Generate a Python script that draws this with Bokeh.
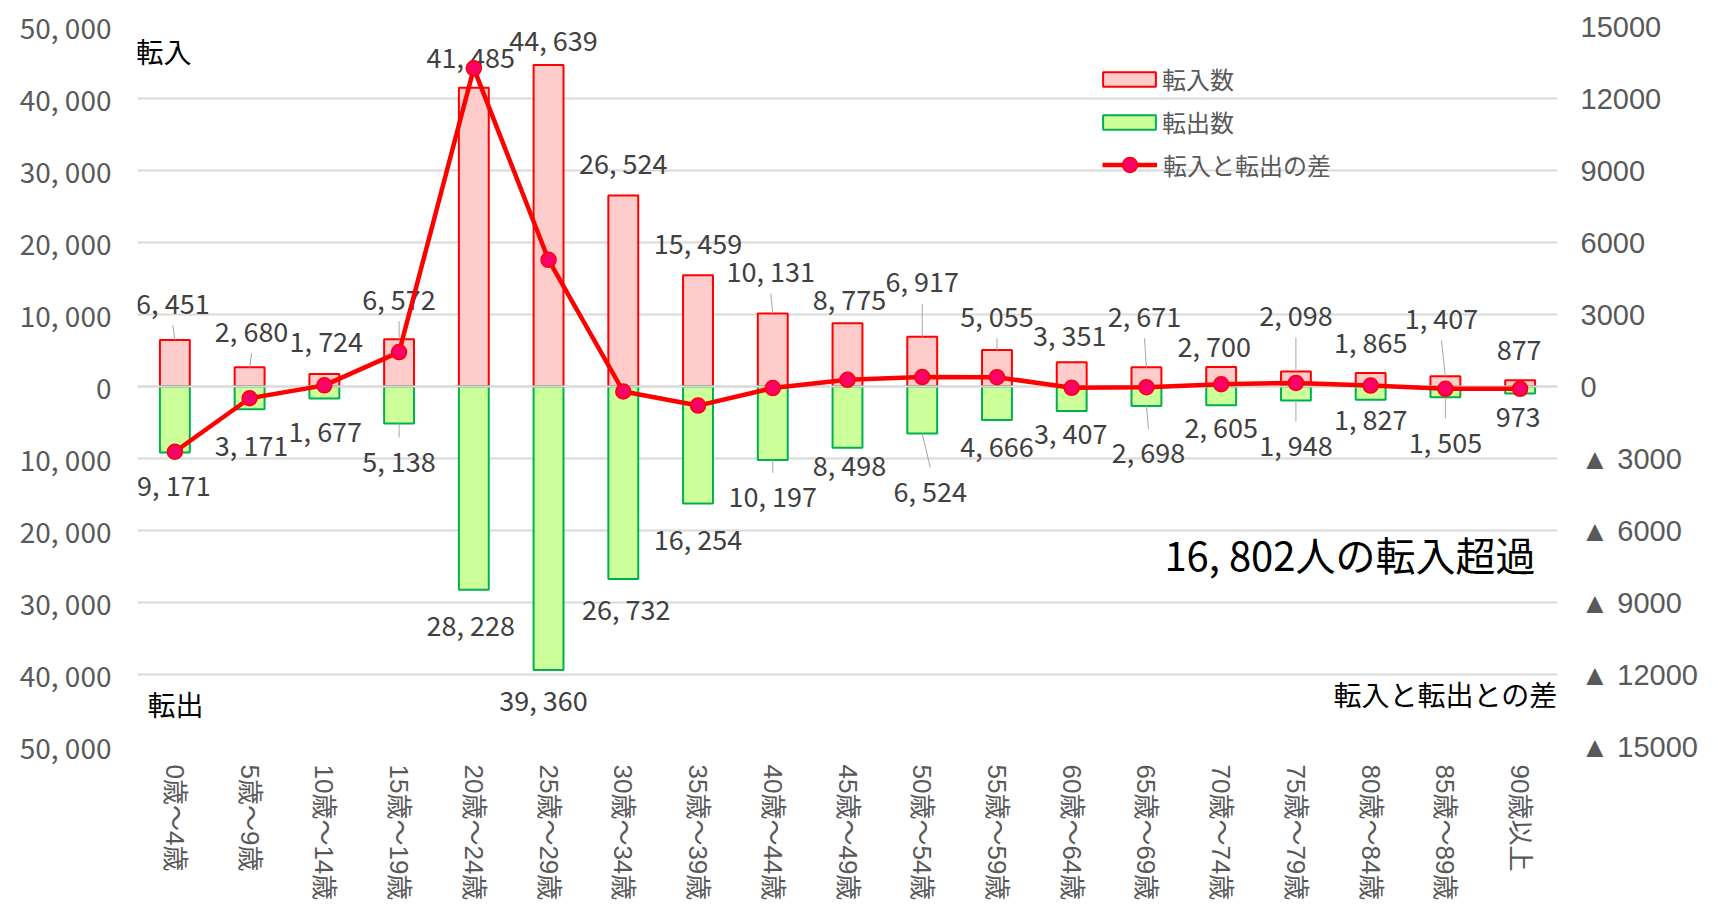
import math
from bokeh.plotting import figure
from bokeh.models import (FactorRange, Range1d, LinearAxis, FixedTicker, CustomJSTickFormatter,
                          Legend, LegendItem, Label, ColumnDataSource)
from bokeh.core.properties import value
from bokeh.embed import file_html
from bokeh.resources import INLINE

# ---------------- data ----------------
categories = ["0歳～4歳", "5歳～9歳", "10歳～14歳", "15歳～19歳", "20歳～24歳", "25歳～29歳",
              "30歳～34歳", "35歳～39歳", "40歳～44歳", "45歳～49歳", "50歳～54歳", "55歳～59歳",
              "60歳～64歳", "65歳～69歳", "70歳～74歳", "75歳～79歳", "80歳～84歳", "85歳～89歳", "90歳以上"]
moving_in = [6451, 2680, 1724, 6572, 41485, 44639, 26524, 15459, 10131, 8775,
             6917, 5055, 3351, 2671, 2700, 2098, 1865, 1407, 877]
moving_out = [9171, 3171, 1677, 5138, 28228, 39360, 26732, 16254, 10197, 8498,
              6524, 4666, 3407, 2698, 2605, 1948, 1827, 1505, 973]
net = [i - o for i, o in zip(moving_in, moving_out)]
left_ticks = list(range(-50000, 50001, 10000))
right_ticks = list(range(-15000, 15001, 3000))
series_names = ["転入数", "転出数", "転入と転出の差"]

# ---------------- label placement (pixels) ----------------
in_dx = [-2, 2, 2, 0, -3, 5, 0, 0, -2, 2, 0, 0, -2, -2, -7, 0, 0, -4, -1]
in_dy = [-38, -37, -34, -41, -31, -26, -33, -33, -43, -25, -56, -35, -28, -52, -22, -57, -32, -59, -30]
in_leader = [1, 1, 0, 1, 0, 0, 0, 0, 1, 0, 1, 1, 0, 1, 0, 1, 0, 1, 0]
out_dx = [-1, 2, 1, 0, -3, -5, 3, 0, 0, 2, 8, 0, -1, 2, 0, 0, 0, 0, -2]
out_dy = [32, 35, 32, 37, 35, 30, 30, 35, 36, 17, 57, 25, 21, 46, 21, 44, 19, 44, 23]
out_leader = [0, 0, 0, 1, 0, 0, 0, 0, 1, 0, 1, 0, 0, 1, 0, 1, 0, 1, 0]

FRAME_W, FRAME_H = 1420, 720
FONT_NUM = "Noto Sans CJK JP"
FONT_CJK = "Noto Sans CJK JP"
FONT_AX = "Liberation Sans, Noto Sans CJK JP"
GRAY = "#595959"


def fmt(v):
    return f"{v:,}".replace(",", ", ")


src = ColumnDataSource(dict(
    cat=categories,
    inn=moving_in,
    out_neg=[-v for v in moving_out],
    net=net,
    in_lbl=[fmt(v) for v in moving_in],
    out_lbl=[fmt(v) for v in moving_out],
    in_dx=in_dx, in_dy=in_dy, out_dx=out_dx, out_dy=out_dy,
))

p = figure(x_range=FactorRange(factors=categories, range_padding=0),
           y_range=Range1d(left_ticks[0], left_ticks[-1]),
           frame_width=FRAME_W, frame_height=FRAME_H,
           min_border_left=137, min_border_right=156, min_border_top=26, min_border_bottom=163,
           output_backend="svg", toolbar_location=None,
           background_fill_color="white", border_fill_color="white", outline_line_color=None)

p.extra_y_ranges = {"net": Range1d(right_ticks[0], right_ticks[-1])}

# left axis
p.yaxis.ticker = FixedTicker(ticks=left_ticks)
p.yaxis.formatter = CustomJSTickFormatter(
    code="const a = Math.abs(tick); if (a === 0) { return '0'; } return a.toLocaleString('en-US').replace(/,/g, ', ');")
p.yaxis.axis_line_color = None
p.yaxis.major_tick_line_color = None
p.yaxis.minor_tick_line_color = None
p.yaxis.major_label_standoff = 20
p.yaxis.major_label_text_font_size = "28px"
p.yaxis.major_label_text_color = GRAY
p.yaxis.major_label_text_font = FONT_NUM

# right axis
raxis = LinearAxis(y_range_name="net", ticker=FixedTicker(ticks=right_ticks),
                   formatter=CustomJSTickFormatter(
                       code="return tick < 0 ? '\u25b2 ' + Math.abs(tick) : String(tick);"),
                   axis_line_color=None, major_tick_line_color=None, minor_tick_line_color=None,
                   major_label_standoff=17, major_label_text_font_size="29px",
                   major_label_text_color=GRAY, major_label_text_font=FONT_AX)
p.add_layout(raxis, "right")

# x axis
p.xaxis.major_label_orientation = -math.pi / 2
p.xaxis.axis_line_color = None
p.xaxis.major_tick_line_color = None
p.xaxis.minor_tick_line_color = None
p.xaxis.major_label_standoff = 12
p.xaxis.major_label_text_font_size = "26px"
p.xaxis.major_label_text_color = GRAY
p.xaxis.major_label_text_font = FONT_AX

# grid
p.ygrid.ticker = FixedTicker(ticks=left_ticks)
p.ygrid.grid_line_color = "#D9D9D9"
p.ygrid.grid_line_width = 2
p.xgrid.grid_line_color = None

# bars
r_in = p.vbar(x="cat", top="inn", bottom=0, width=0.4, source=src,
              fill_color="#FFCCCC", line_color="#FF0000", line_width=2)
r_out = p.vbar(x="cat", top=0, bottom="out_neg", width=0.4, source=src,
               fill_color="#CCFF99", line_color="#00B050", line_width=2)
p.hspan(y=[0], line_color="#D9D9D9", line_width=2)

# leader lines
PX = (left_ticks[-1] - left_ticks[0]) / FRAME_H
CAT_PX = FRAME_W / len(categories)
GAP = 23
lx0, ly0, lx1, ly1 = [], [], [], []
for i in range(len(categories)):
    if in_leader[i]:
        lx0.append(i + 0.5)
        ly0.append(moving_in[i])
        lx1.append(i + 0.5 + in_dx[i] / CAT_PX)
        ly1.append(moving_in[i] + (-in_dy[i] - GAP) * PX)
    if out_leader[i]:
        lx0.append(i + 0.5)
        ly0.append(-moving_out[i])
        lx1.append(i + 0.5 + out_dx[i] / CAT_PX)
        ly1.append(-moving_out[i] - (out_dy[i] - GAP) * PX)
p.segment(x0=lx0, y0=ly0, x1=lx1, y1=ly1, line_color="#A6A6A6", line_width=1)

# data labels
p.text(x="cat", y="inn", text="in_lbl", x_offset="in_dx", y_offset="in_dy", source=src,
       text_align="center", text_baseline="middle", text_font=value(FONT_NUM),
       text_font_size="27px", text_color="#404040")
p.text(x="cat", y="out_neg", text="out_lbl", x_offset="out_dx", y_offset="out_dy", source=src,
       text_align="center", text_baseline="middle", text_font=value(FONT_NUM),
       text_font_size="27px", text_color="#404040")

# net line
r_line = p.line(x="cat", y="net", y_range_name="net", source=src, line_color="#FF0000", line_width=4.5)
r_pts = p.scatter(x="cat", y="net", y_range_name="net", source=src, size=15,
                  fill_color="#FF0066", line_color="#FF0000", line_width=1.5)

FRAME_BOTTOM = 26 + FRAME_H  # page y of the frame bottom
legend_bars = Legend(items=[LegendItem(label=series_names[0], renderers=[r_in]),
                            LegendItem(label=series_names[1], renderers=[r_out])],
                     location=(959, FRAME_BOTTOM - 139), glyph_width=66, glyph_height=18,
                     label_standoff=0, spacing=8, label_height=30, padding=0, margin=0,
                     border_line_color=None, background_fill_alpha=0,
                     label_text_font_size="24px", label_text_color=GRAY, label_text_font=FONT_CJK)
legend_line = Legend(items=[LegendItem(label=series_names[2], renderers=[r_line, r_pts])],
                     location=(965, FRAME_BOTTOM - 183), glyph_width=55, glyph_height=37,
                     label_standoff=6, padding=0, margin=0,
                     border_line_color=None, background_fill_alpha=0,
                     label_text_font_size="24px", label_text_color=GRAY, label_text_font=FONT_CJK)
p.add_layout(legend_bars)
p.add_layout(legend_line)

# annotations
p.add_layout(Label(x=-2, y=FRAME_H - 24, x_units="screen", y_units="screen", text="転入",
                   text_font=FONT_CJK, text_font_size="28px", text_color="black",
                   text_baseline="middle", text_align="left"))
p.add_layout(Label(x=10, y=43, x_units="screen", y_units="screen", text="転出",
                   text_font=FONT_CJK, text_font_size="28px", text_color="black",
                   text_baseline="middle", text_align="left"))
p.add_layout(Label(x=FRAME_W, y=53, x_units="screen", y_units="screen", text="転入と転出との差",
                   text_font=FONT_CJK, text_font_size="28px", text_color="black",
                   text_baseline="middle", text_align="right"))
p.add_layout(Label(x=1398, y=193, x_units="screen", y_units="screen",
                   text=fmt(sum(net)) + "人の転入超過",
                   text_font=FONT_NUM, text_font_size="40px", text_color="black",
                   text_baseline="middle", text_align="right"))

open("out.html", "w").write(file_html(p, INLINE))
